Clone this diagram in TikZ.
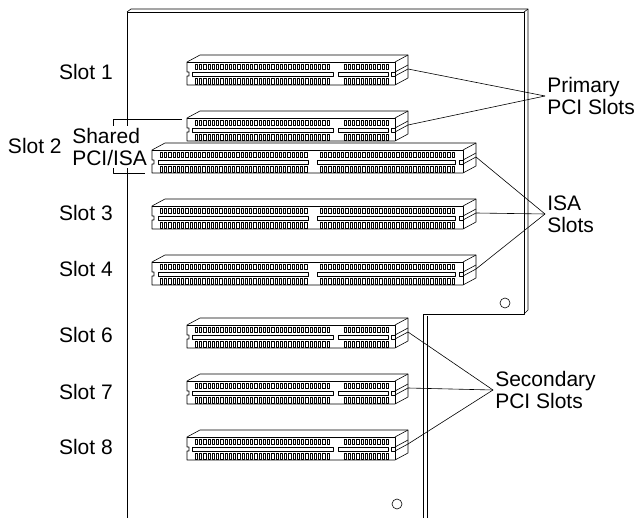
\documentclass[tikz,border=0pt]{standalone}
\usepackage{fontspec}
\setmainfont{Liberation Sans}
\usepackage{tikz}

\begin{document}
\begin{tikzpicture}[x=1pt,y=-1pt,line join=round,line width=0.6pt,
  lbl/.style={font=\fontsize{21}{22}\selectfont,inner sep=2pt},
  pin/.style={line width=0.35pt}]
\useasboundingbox (0,0) rectangle (637,518);

% board
\draw (127,518) -- (127,12) -- (524,12) -- (524,314) -- (423,314) -- (423,518);
\draw (127,12) -- (131,9) -- (528,9) -- (528,310) -- (524,314);
\draw (524,12) -- (528,9);
\draw (427,316) -- (427,518);
\draw (505,303) circle (5pt);
\draw (397,504) circle (5pt);

% PCI slots
\foreach \y/\n in {62/1,118/2p,325/6,381/7,437/8}{
  \draw[fill=white] (187,\y) -- (200,\y-7) -- (408,\y-7) -- (408,\y+16) -- (395,\y+23)
    -- (187,\y+23) -- (187,\y+14) -- (189,\y+14) -- (189,\y+10) -- (187,\y+10) -- cycle;
  \draw (187,\y) -- (395,\y) -- (395,\y+23);
  \draw (395,\y) -- (408,\y-7);
  \draw (395,\y+10) -- (391,\y+10) -- (391,\y+14) -- (395,\y+14);
  \draw (395,\y+10) -- (408,\y+3);
  \draw (395,\y+14) -- (408,\y+7);
  \draw (192,\y+10) rectangle (333,\y+14);
  \draw (338,\y+10) rectangle (388,\y+14);
  \foreach \k in {0,...,31}{
    \draw[pin] (195+\k*4.25,\y+2) rectangle ++(2.2,5.5);
    \draw[pin] (195+\k*4.25,\y+16.5) rectangle ++(2.2,5.5);
  }
  \foreach \k in {0,...,10}{
    \draw[pin] (344+\k*4.2,\y+2) rectangle ++(2.2,5.5);
    \draw[pin] (344+\k*4.2,\y+16.5) rectangle ++(2.2,5.5);
  }
  \coordinate (slot\n) at (408,\y+7);
}

% ISA slots
\foreach \y/\n in {150/2i,206/3,262/4}{
  \draw[fill=white] (152,\y) -- (165,\y-7) -- (476,\y-7) -- (476,\y+16) -- (463,\y+23)
    -- (152,\y+23) -- (152,\y+14) -- (154,\y+14) -- (154,\y+10) -- (152,\y+10) -- cycle;
  \draw (152,\y) -- (463,\y) -- (463,\y+23);
  \draw (463,\y) -- (476,\y-7);
  \draw (463,\y+10) -- (459,\y+10) -- (459,\y+14) -- (463,\y+14);
  \draw (463,\y+10) -- (476,\y+3);
  \draw (463,\y+14) -- (476,\y+7);
  \draw (158,\y+10) rectangle (308,\y+14);
  \draw (317,\y+10) rectangle (455,\y+14);
  \foreach \k in {0,...,34}{
    \draw[pin] (160+\k*4.25,\y+2) rectangle ++(2.2,5.5);
    \draw[pin] (160+\k*4.25,\y+16.5) rectangle ++(2.2,5.5);
  }
  \foreach \k in {0,...,31}{
    \draw[pin] (320+\k*4.25,\y+2) rectangle ++(2.2,5.5);
    \draw[pin] (320+\k*4.25,\y+16.5) rectangle ++(2.2,5.5);
  }
  \coordinate (slot\n) at (476,\y+7);
}

% shared bracket
\coordinate (brtop) at (182,119);
\coordinate (brbot) at (145,173);
\draw (brtop) -- (113,119) -- (113,173) -- (brbot);

% slot labels
\node[lbl,anchor=east] (lab1) at (115,72) {Slot 1};
\node[lbl,anchor=east] (lab2) at (64,146) {Slot 2};
\node[lbl,anchor=west,align=left,fill=white] (shared) at (70,147) {Shared\\PCI/ISA};
\node[lbl,anchor=east] (lab3) at (115,213) {Slot 3};
\node[lbl,anchor=east] (lab4) at (115,269) {Slot 4};
\node[lbl,anchor=east] (lab6) at (115,335) {Slot 6};
\node[lbl,anchor=east] (lab7) at (115,392) {Slot 7};
\node[lbl,anchor=east] (lab8) at (115,447) {Slot 8};

% group labels
\node[lbl,anchor=west,align=left] (prim) at (545,96) {Primary\\PCI Slots};
\node[lbl,anchor=west,align=left] (isa) at (545,214) {ISA\\Slots};
\node[lbl,anchor=west,align=left] (sec) at (493,390) {Secondary\\PCI Slots};

\draw (slot1) -- (prim.west);
\draw (slot2p) -- (prim.west);
\draw (slot2i) -- (isa.west);
\draw (slot3) -- (isa.west);
\draw (slot4) -- (isa.west);
\draw (slot6) -- (sec.west);
\draw (slot7) -- (sec.west);
\draw (slot8) -- (sec.west);

\end{tikzpicture}
\end{document}
